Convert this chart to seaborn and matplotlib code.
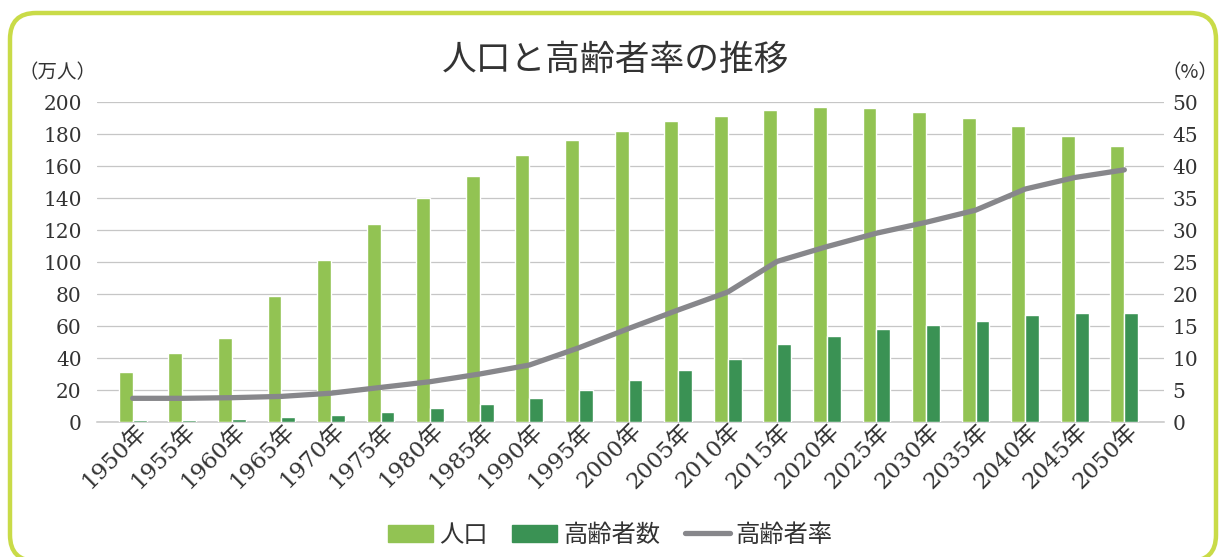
""" Population and elderly ratio chart """

import matplotlib
matplotlib.use("Agg")
import matplotlib.pyplot as plt
import numpy as np
import pandas as pd
import seaborn as sns
from matplotlib.lines import Line2D
from matplotlib.patches import FancyBboxPatch, Patch
from matplotlib.transforms import IdentityTransform, ScaledTranslation

# data
years = [1950, 1955, 1960, 1965, 1970, 1975, 1980, 1985, 1990, 1995, 2000,
         2005, 2010, 2015, 2020, 2025, 2030, 2035, 2040, 2045, 2050]
population = [31, 43, 52.5, 79, 101, 124, 140, 154, 167, 176, 182,
              188, 191, 195, 197, 196.5, 194, 190, 185, 179, 172.5]
elderly = [1.1, 1.5, 1.8, 2.9, 4.4, 6.3, 8.6, 11.3, 15.0, 20.0, 26.1,
           32.4, 39.1, 48.9, 53.9, 58.0, 60.5, 63.2, 66.8, 68.3, 67.9]
elderly_rate = [3.7, 3.7, 3.8, 4.0, 4.5, 5.4, 6.3, 7.5, 8.9, 11.6, 14.6,
                17.5, 20.3, 25.1, 27.4, 29.5, 31.2, 33.1, 36.4, 38.2, 39.4]
year_labels = [f"{y}年" for y in years]
series_names = ["人口", "高齢者数", "高齢者率"]
left_ticks = list(range(0, 201, 20))
right_ticks = list(range(0, 51, 5))

LIGHT_GREEN = "#92C353"
DARK_GREEN = "#3A9254"
LINE_GREY = "#87878B"
TEXT = "#333333"

sns.set_style("white")
plt.rcParams["font.family"] = ["DejaVu Serif", "Noto Sans CJK JP"]
CJK = ["Noto Sans CJK JP", "DejaVu Sans"]

# long form table for the grouped bars
df = pd.DataFrame({
    "year": year_labels * 2,
    "series": [series_names[0]] * len(years) + [series_names[1]] * len(years),
    "value": population + elderly,
})

fig = plt.figure(figsize=(12.21, 5.57), dpi=100)
ax = fig.add_axes([97 / 1221, 1 - 422 / 557, (1164 - 97) / 1221, 320 / 557])

sns.barplot(data=df, x="year", y="value", hue="series",
            palette=[LIGHT_GREEN, DARK_GREEN], width=0.56, gap=0,
            saturation=1, legend=False, ax=ax)

ax.set_xlim(-0.72, 20.8)
ax.set_ylim(0, 200)
ax.set_yticks(left_ticks)
ax.yaxis.grid(True, color="#C6C6C6", lw=0.9)
ax.set_axisbelow(True)
ax.set_xlabel("")
ax.set_ylabel("")
for side in ["top", "left", "right"]:
    ax.spines[side].set_visible(False)
ax.spines["bottom"].set_color("#C6C6C6")
ax.spines["bottom"].set_linewidth(1.1)
ax.spines["bottom"].set_zorder(0.5)
ax.tick_params(axis="y", length=0, pad=11, labelsize=14.5, labelcolor=TEXT)
ax.tick_params(axis="x", length=0, pad=4, labelsize=16.5, labelcolor=TEXT)
ax.set_xticks(range(len(years)))
ax.set_xticklabels(year_labels, rotation=45, ha="right", va="center",
                   rotation_mode="anchor")
shift = ScaledTranslation(7 / 72, 0, fig.dpi_scale_trans)
for label in ax.get_xticklabels():
    label.set_transform(label.get_transform() + shift)

# elderly ratio on the right axis
ax2 = ax.twinx()
sns.lineplot(x=np.arange(len(years)), y=elderly_rate, ax=ax2,
             color=LINE_GREY, lw=3.8, solid_capstyle="round")
ax2.set_ylim(0, 50)
ax2.set_yticks(right_ticks)
ax2.grid(False)
for side in ["top", "left", "right", "bottom"]:
    ax2.spines[side].set_visible(False)
ax2.tick_params(axis="y", length=0, pad=6, labelsize=14.5, labelcolor=TEXT)

# title and unit labels
fig.text(0.504, 1 - 60 / 557, "人口と高齢者率の推移", ha="center", va="center",
         fontsize=25, color=TEXT, family=CJK)
fig.text(57 / 1221, 1 - 73 / 557, "（万人）", ha="center", va="center",
         fontsize=14, color=TEXT, family=CJK)
fig.text(1190 / 1221, 1 - 73 / 557, "（%）", ha="center", va="center",
         fontsize=14, color=TEXT, family=CJK)

# legend
handles = [Patch(color=LIGHT_GREEN), Patch(color=DARK_GREEN),
           Line2D([], [], color=LINE_GREY, lw=3.8, solid_capstyle="round")]
fig.legend(handles, series_names, loc="center", bbox_to_anchor=(0.5, 1 - 535 / 557),
           ncol=3, frameon=False, handlelength=1.85, handletextpad=0.25,
           columnspacing=1.0, prop={"family": CJK, "size": 17.5},
           labelcolor=TEXT)

# rounded frame
fig.patches.append(FancyBboxPatch(
    (10, -4), 1206, 548, boxstyle="round,pad=0,rounding_size=26",
    transform=IdentityTransform(), fill=False, ec="#C9DB48", lw=3.2))

fig.savefig("out.png", dpi=100)
